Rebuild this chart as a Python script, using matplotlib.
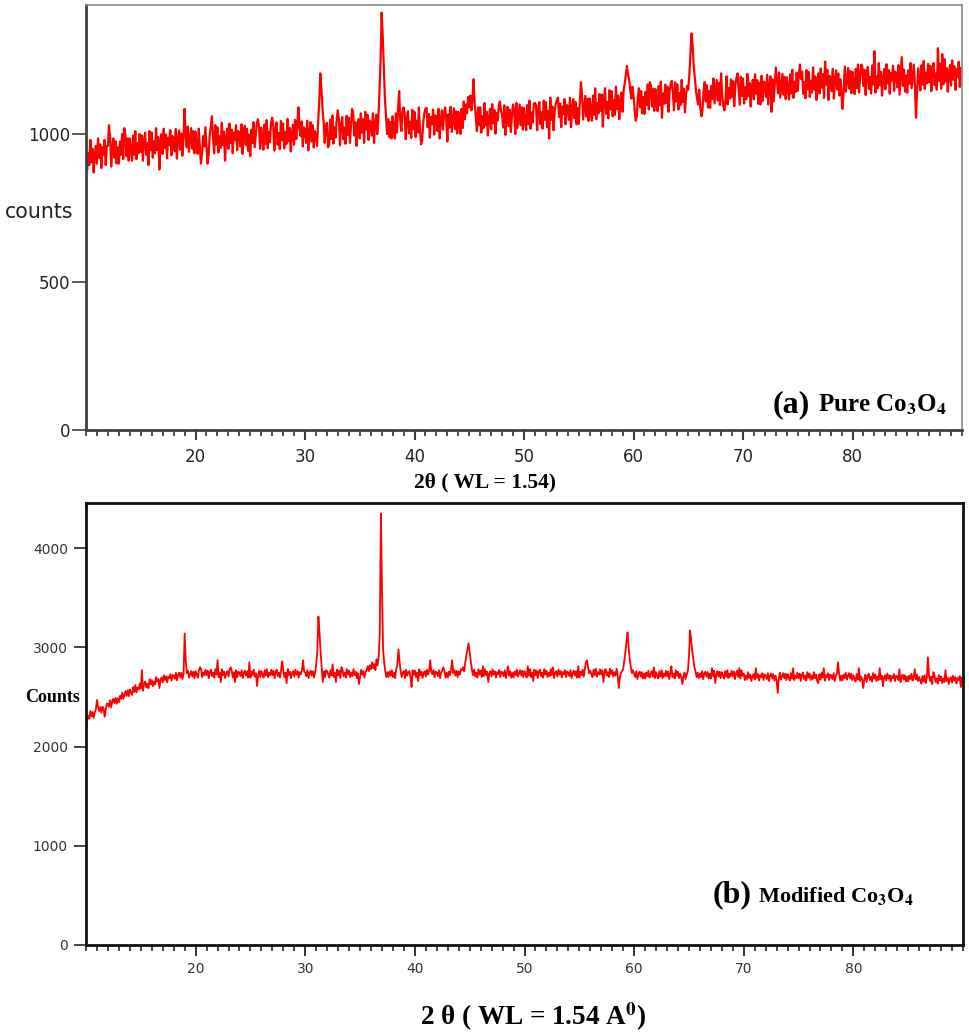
import numpy as np
import matplotlib
matplotlib.use("Agg")
import matplotlib.pyplot as plt
from matplotlib.ticker import MultipleLocator, FixedLocator

plt.rcParams['mathtext.fontset'] = 'stix'

# ---- data (counts sampled every 0.1 deg, 2theta = 10 .. 90) ----
two_theta_start = 10.0
two_theta_end = 90.0

pure_counts = [
    965, 880, 935, 895, 980, 905, 950, 870, 930, 960,
    900, 985, 920, 965, 885, 955, 930, 980, 895, 960,
    960, 1030, 990, 890, 955, 985, 920, 975, 900, 955,
    900, 975, 930, 1000, 915, 1020, 995, 925, 985, 910,
    985, 945, 910, 995, 930, 1010, 915, 970, 935, 1000,
    940, 995, 910, 980, 1005, 930, 970, 895, 1010, 945,
    1005, 920, 975, 935, 1020, 945, 990, 880, 970, 1000,
    933, 1018, 953, 998, 918, 988, 963, 1013, 928, 993,
    987, 942, 1017, 917, 982, 1012, 947, 1002, 927, 982,
    1085, 1000, 955, 1025, 940, 980, 1020, 950, 1010, 935,
    1008, 968, 933, 1018, 953, 900, 938, 993, 958, 1023,
    960, 900, 930, 1000, 1025, 1060, 990, 935, 1030, 965,
    1023, 938, 993, 953, 1038, 963, 1008, 910, 988, 1018,
    950, 1035, 970, 1015, 935, 1005, 980, 1030, 945, 1010,
    1003, 958, 1033, 933, 998, 1028, 963, 1018, 943, 998,
    925, 1015, 970, 1040, 955, 995, 1035, 1050, 1025, 950,
    1022, 982, 947, 1032, 967, 1047, 952, 1007, 972, 1037,
    1055, 1029, 944, 1014, 1039, 964, 1004, 949, 1044, 979,
    1036, 951, 1006, 966, 1051, 976, 1021, 941, 1001, 1031,
    963, 1048, 983, 1028, 1090, 1018, 993, 1043, 958, 1023,
    1015, 970, 1045, 945, 1010, 1040, 975, 1030, 955, 1010,
    1000, 960, 1040, 1110, 1205, 1150, 1085, 1040, 970, 1030,
    1038, 955, 963, 1048, 983, 1063, 968, 1023, 988, 1053,
    1080, 1047, 962, 1032, 1057, 982, 1022, 967, 1062, 997,
    1055, 970, 1025, 1085, 1070, 995, 1040, 960, 1020, 1050,
    985, 1070, 1005, 1050, 970, 1075, 1015, 1065, 980, 1045,
    1040, 995, 1070, 970, 1035, 1065, 1000, 1055, 1140, 1250,
    1410, 1330, 1220, 1120, 1060, 1000, 1050, 990, 1040, 985,
    1060, 1020, 985, 1070, 1005, 1085, 1145, 1045, 1010, 1075,
    1090, 1067, 982, 1052, 1077, 1002, 1042, 987, 1082, 1017,
    1075, 990, 1045, 1005, 1090, 1015, 965, 980, 1040, 1070,
    1085, 1088, 1023, 1068, 988, 1058, 1033, 1083, 998, 1063,
    1055, 1010, 1085, 985, 1050, 1080, 1015, 1070, 1090, 1050,
    975, 1067, 1022, 1092, 1007, 1047, 1087, 1017, 1077, 1002,
    1075, 1035, 1000, 1085, 1020, 1110, 1050, 1100, 1070, 1125,
    1090, 1130, 1080, 1120, 1185, 1100, 1060, 1010, 1090, 1030,
    1090, 1005, 1060, 1020, 1105, 1030, 1075, 995, 1055, 1085,
    1016, 1101, 1036, 1081, 1001, 1071, 1046, 1096, 1110, 1076,
    1067, 1022, 1097, 997, 1062, 1092, 1027, 1082, 1007, 1062,
    1100, 1080, 1000, 1105, 1020, 1060, 1100, 1030, 1090, 1015,
    1088, 1048, 1013, 1098, 1033, 1113, 1018, 1073, 1038, 1103,
    1105, 1098, 1013, 1083, 1108, 1033, 1073, 1018, 1113, 1048,
    1108, 1023, 1078, 985, 1123, 1048, 1093, 1013, 1073, 1103,
    1115, 1123, 1058, 1103, 1023, 1093, 1068, 1118, 1033, 1098,
    1093, 1048, 1123, 1023, 1088, 1118, 1053, 1108, 1033, 1088,
    1034, 1109, 1175, 1134, 1049, 1089, 1129, 1059, 1119, 1044,
    1120, 1080, 1045, 1130, 1065, 1155, 1050, 1105, 1070, 1135,
    1078, 1133, 1025, 1118, 1155, 1068, 1108, 1053, 1148, 1083,
    1145, 1060, 1115, 1065, 1160, 1085, 1130, 1050, 1110, 1140,
    1075, 1150, 1170, 1200, 1230, 1200, 1185, 1150, 1120, 1160,
    1130, 1085, 1045, 1060, 1125, 1155, 1090, 1145, 1070, 1125,
    1068, 1143, 1098, 1168, 1083, 1175, 1163, 1093, 1153, 1078,
    1152, 1112, 1077, 1162, 1097, 1177, 1055, 1137, 1102, 1167,
    1105, 1160, 1075, 1145, 1170, 1180, 1135, 1080, 1175, 1110,
    1168, 1083, 1138, 1098, 1183, 1108, 1153, 1073, 1133, 1163,
    1150, 1200, 1270, 1340, 1300, 1230, 1190, 1150, 1120, 1100,
    1150, 1090, 1060, 1080, 1145, 1175, 1110, 1165, 1090, 1145,
    1088, 1163, 1118, 1188, 1103, 1143, 1183, 1113, 1173, 1098,
    1205, 1130, 1095, 1080, 1115, 1195, 1100, 1155, 1120, 1185,
    1124, 1179, 1094, 1164, 1189, 1205, 1154, 1099, 1194, 1129,
    1188, 1103, 1158, 1118, 1203, 1128, 1173, 1093, 1153, 1183,
    1117, 1202, 1137, 1182, 1102, 1172, 1100, 1197, 1112, 1177,
    1170, 1125, 1200, 1100, 1165, 1195, 1075, 1185, 1110, 1165,
    1225, 1183, 1138, 1208, 1123, 1163, 1203, 1133, 1193, 1118,
    1192, 1152, 1117, 1202, 1137, 1217, 1122, 1177, 1142, 1207,
    1146, 1201, 1235, 1186, 1211, 1136, 1176, 1121, 1216, 1151,
    1210, 1125, 1180, 1140, 1225, 1150, 1195, 1115, 1175, 1205,
    1137, 1222, 1157, 1202, 1122, 1245, 1167, 1217, 1115, 1197,
    1190, 1145, 1220, 1120, 1185, 1215, 1150, 1205, 1130, 1185,
    1128, 1085, 1158, 1228, 1143, 1183, 1223, 1153, 1213, 1138,
    1210, 1170, 1135, 1220, 1155, 1235, 1140, 1195, 1235, 1225,
    1162, 1217, 1132, 1202, 1227, 1152, 1192, 1137, 1232, 1167,
    1280, 1140, 1195, 1155, 1240, 1165, 1210, 1130, 1190, 1220,
    1151, 1236, 1171, 1216, 1136, 1206, 1181, 1231, 1146, 1211,
    1203, 1158, 1233, 1133, 1198, 1260, 1163, 1218, 1143, 1198,
    1140, 1215, 1170, 1240, 1155, 1195, 1235, 1165, 1055, 1150,
    1222, 1182, 1147, 1232, 1167, 1247, 1152, 1207, 1172, 1237,
    1175, 1230, 1145, 1215, 1240, 1165, 1205, 1150, 1290, 1180,
    1238, 1153, 1270, 1168, 1253, 1178, 1223, 1143, 1203, 1233,
    1164, 1249, 1184, 1229, 1149, 1219, 1194, 1244, 1159, 1224,
    1210,
]

modified_counts = [
    2315, 2257, 2309, 2281, 2358, 2305, 2347, 2289, 2346, 2373,
    2470, 2401, 2358, 2399, 2341, 2402, 2389, 2300, 2372, 2433,
    2430, 2401, 2468, 2394, 2456, 2482, 2439, 2490, 2432, 2488,
    2445, 2511, 2483, 2544, 2481, 2522, 2559, 2510, 2567, 2508,
    2575, 2545, 2520, 2600, 2550, 2620, 2545, 2595, 2575, 2635,
    2585, 2770, 2563, 2627, 2656, 2595, 2634, 2588, 2677, 2626,
    2670, 2608, 2657, 2625, 2699, 2658, 2681, 2590, 2673, 2696,
    2645, 2718, 2671, 2709, 2647, 2705, 2688, 2731, 2664, 2722,
    2715, 2682, 2744, 2666, 2723, 2745, 2697, 2744, 2681, 2733,
    3140, 2860, 2740, 2765, 2695, 2730, 2760, 2705, 2755, 2690,
    2760, 2725, 2695, 2770, 2800, 2780, 2700, 2745, 2720, 2775,
    2720, 2765, 2690, 2750, 2775, 2710, 2745, 2695, 2780, 2725,
    2870, 2700, 2745, 2650, 2780, 2720, 2755, 2690, 2740, 2760,
    2705, 2775, 2800, 2760, 2695, 2750, 2650, 2770, 2700, 2755,
    2745, 2710, 2770, 2690, 2745, 2765, 2715, 2760, 2695, 2850,
    2695, 2755, 2720, 2775, 2705, 2740, 2610, 2715, 2765, 2700,
    2760, 2725, 2695, 2770, 2715, 2780, 2700, 2745, 2720, 2775,
    2720, 2765, 2690, 2750, 2775, 2710, 2745, 2695, 2780, 2860,
    2765, 2700, 2745, 2640, 2780, 2720, 2755, 2690, 2740, 2760,
    2705, 2775, 2725, 2760, 2695, 2750, 2730, 2770, 2870, 2755,
    2745, 2710, 2770, 2690, 2745, 2765, 2715, 2760, 2695, 2745,
    2830, 2960, 3310, 3150, 2950, 2800, 2650, 2760, 2700, 2770,
    2760, 2725, 2695, 2770, 2715, 2830, 2700, 2745, 2650, 2775,
    2720, 2765, 2690, 2800, 2775, 2710, 2745, 2695, 2780, 2725,
    2765, 2700, 2745, 2710, 2780, 2720, 2755, 2690, 2740, 2630,
    2705, 2775, 2725, 2760, 2695, 2750, 2770, 2810, 2760, 2820,
    2780, 2850, 2790, 2830, 2770, 2880, 2820, 2900, 3150, 4350,
    3600, 2980, 2850, 2760, 2700, 2750, 2700, 2760, 2715, 2770,
    2700, 2745, 2690, 2780, 2830, 2980, 2860, 2760, 2700, 2745,
    2760, 2690, 2775, 2715, 2750, 2760, 2700, 2600, 2770, 2725,
    2765, 2700, 2745, 2660, 2780, 2720, 2755, 2690, 2740, 2760,
    2705, 2775, 2725, 2760, 2870, 2750, 2730, 2770, 2700, 2755,
    2745, 2710, 2770, 2690, 2745, 2765, 2800, 2760, 2695, 2745,
    2695, 2755, 2720, 2775, 2870, 2740, 2770, 2715, 2765, 2700,
    2760, 2725, 2780, 2770, 2800, 2760, 2850, 2920, 2980, 3040,
    2950, 2860, 2780, 2720, 2775, 2710, 2745, 2695, 2780, 2725,
    2765, 2700, 2810, 2710, 2780, 2720, 2755, 2650, 2740, 2760,
    2705, 2775, 2725, 2760, 2695, 2750, 2730, 2770, 2700, 2755,
    2745, 2710, 2770, 2690, 2745, 2810, 2715, 2760, 2695, 2745,
    2695, 2755, 2720, 2775, 2705, 2740, 2770, 2715, 2765, 2700,
    2760, 2725, 2695, 2810, 2715, 2780, 2700, 2745, 2660, 2775,
    2720, 2765, 2690, 2750, 2775, 2710, 2745, 2695, 2780, 2725,
    2765, 2700, 2745, 2710, 2780, 2720, 2800, 2690, 2740, 2760,
    2705, 2775, 2725, 2760, 2695, 2750, 2730, 2770, 2700, 2755,
    2745, 2710, 2770, 2690, 2745, 2765, 2715, 2760, 2695, 2810,
    2695, 2755, 2720, 2775, 2705, 2780, 2850, 2870, 2800, 2740,
    2765, 2730, 2700, 2775, 2720, 2785, 2705, 2750, 2725, 2780,
    2725, 2770, 2650, 2755, 2780, 2715, 2750, 2700, 2785, 2730,
    2770, 2705, 2750, 2715, 2785, 2725, 2590, 2695, 2745, 2765,
    2780, 2860, 2950, 3060, 3150, 3000, 2880, 2800, 2740, 2770,
    2735, 2700, 2760, 2680, 2735, 2755, 2705, 2750, 2685, 2735,
    2685, 2745, 2710, 2765, 2695, 2730, 2760, 2705, 2800, 2690,
    2750, 2715, 2685, 2760, 2705, 2770, 2690, 2735, 2710, 2765,
    2710, 2755, 2680, 2740, 2810, 2700, 2735, 2685, 2770, 2715,
    2755, 2690, 2735, 2700, 2630, 2710, 2745, 2680, 2730, 2760,
    2900, 3170, 3080, 2960, 2880, 2800, 2760, 2700, 2745, 2690,
    2735, 2700, 2760, 2680, 2735, 2755, 2705, 2750, 2685, 2735,
    2685, 2790, 2710, 2765, 2640, 2730, 2760, 2705, 2755, 2690,
    2750, 2715, 2685, 2760, 2705, 2770, 2690, 2735, 2710, 2765,
    2710, 2755, 2680, 2740, 2765, 2700, 2790, 2685, 2770, 2715,
    2735, 2670, 2715, 2680, 2750, 2690, 2725, 2660, 2710, 2730,
    2675, 2790, 2695, 2730, 2665, 2720, 2700, 2740, 2670, 2725,
    2715, 2680, 2740, 2660, 2715, 2735, 2685, 2730, 2665, 2715,
    2665, 2540, 2690, 2745, 2675, 2710, 2740, 2685, 2735, 2670,
    2730, 2695, 2665, 2740, 2685, 2790, 2670, 2715, 2690, 2745,
    2690, 2735, 2660, 2720, 2745, 2680, 2715, 2665, 2750, 2695,
    2735, 2670, 2715, 2680, 2750, 2690, 2725, 2660, 2640, 2730,
    2675, 2745, 2695, 2790, 2665, 2720, 2700, 2740, 2670, 2725,
    2715, 2680, 2740, 2660, 2715, 2735, 2850, 2730, 2665, 2715,
    2665, 2725, 2690, 2745, 2675, 2710, 2740, 2685, 2735, 2670,
    2720, 2685, 2655, 2730, 2675, 2790, 2660, 2705, 2680, 2590,
    2680, 2725, 2650, 2710, 2735, 2670, 2705, 2655, 2740, 2685,
    2725, 2660, 2705, 2670, 2790, 2680, 2715, 2610, 2700, 2720,
    2665, 2735, 2685, 2720, 2655, 2710, 2690, 2730, 2660, 2715,
    2705, 2670, 2780, 2650, 2705, 2725, 2675, 2720, 2655, 2705,
    2655, 2715, 2680, 2735, 2665, 2700, 2780, 2675, 2725, 2660,
    2700, 2665, 2635, 2710, 2655, 2720, 2640, 2690, 2900, 2715,
    2660, 2705, 2630, 2750, 2715, 2650, 2685, 2635, 2720, 2665,
    2705, 2640, 2685, 2650, 2770, 2660, 2695, 2630, 2680, 2700,
    2645, 2715, 2665, 2700, 2635, 2690, 2670, 2710, 2600, 2695,
    2660,
]

top_yticks = [0, 500, 1000]
bottom_yticks = [0, 1000, 2000, 3000, 4000]
xticks = [20, 30, 40, 50, 60, 70, 80]

x_pure = np.linspace(two_theta_start, two_theta_end, len(pure_counts))
x_mod = np.linspace(two_theta_start, two_theta_end, len(modified_counts))

W, H = 969, 1033
fig = plt.figure(figsize=(W / 100, H / 100), dpi=100)

def fx(px):
    return px / W

def fy(py):
    return 1 - py / H

# ---------------- top panel ----------------
ax1 = fig.add_axes([fx(86), fy(430), fx(962) - fx(86), fy(5) - fy(430)])
ax1.plot(x_pure, pure_counts, color='#ff0000', lw=1.6)
ax1.set_xlim(10, 90)
ax1.set_ylim(0, 1436)
ax1.xaxis.set_major_locator(FixedLocator(xticks))
ax1.xaxis.set_minor_locator(MultipleLocator(1))
ax1.yaxis.set_major_locator(FixedLocator(top_yticks))
for s in ['top', 'right']:
    ax1.spines[s].set_color('#8a8a8a')
    ax1.spines[s].set_linewidth(1.2)
for s in ['left', 'bottom']:
    ax1.spines[s].set_color('#404040')
    ax1.spines[s].set_linewidth(2.0)
ax1.tick_params(axis='x', which='major', direction='out', length=7, width=1.5,
                color='#404040', labelsize=12, labelcolor='#222222', pad=6)
ax1.tick_params(axis='x', which='minor', direction='out', length=4, width=1.3,
                color='#404040')
ax1.tick_params(axis='y', which='major', direction='out', length=10, width=1.2,
                color='#404040', labelsize=12, labelcolor='#222222', pad=1)
for lab in ax1.get_xticklabels() + ax1.get_yticklabels():
    lab.set_family('DejaVu Sans')

fig.text(fx(5), fy(212), 'counts', fontsize=14.8, family='DejaVu Sans',
         color='#222222', ha='left', va='center')
fig.text(fx(485), fy(482), '2θ ( WL = 1.54)', fontsize=15.5,
         family='Liberation Serif', weight='bold', ha='center', va='center')
ax1.text(0.826, 0.042, '(a)', transform=ax1.transAxes, fontsize=23,
         family='Liberation Serif', weight='bold', ha='right', va='baseline')
ax1.text(0.836, 0.042, r'Pure Co$_{\mathbf{3}}$O$_{\mathbf{4}}$',
         transform=ax1.transAxes, fontsize=18,
         family='Liberation Serif', weight='bold', ha='left', va='baseline')

# ---------------- bottom panel ----------------
ax2 = fig.add_axes([fx(86), fy(945), fx(963) - fx(86), fy(503) - fy(945)])
ax2.plot(x_mod, modified_counts, color='#ff0000', lw=1.3)
ax2.set_xlim(10, 90)
ax2.set_ylim(0, 4455)
ax2.xaxis.set_major_locator(FixedLocator(xticks))
ax2.xaxis.set_minor_locator(MultipleLocator(1))
ax2.yaxis.set_major_locator(FixedLocator(bottom_yticks))
for s in ax2.spines.values():
    s.set_color('#111111')
    s.set_linewidth(2.0)
ax2.tick_params(axis='x', which='major', direction='out', length=8, width=1.3,
                color='#222222', labelsize=10, labelcolor='#333333', pad=4)
ax2.tick_params(axis='x', which='minor', direction='out', length=4, width=1.2,
                color='#222222')
ax2.tick_params(axis='y', which='major', direction='out', length=9, width=1.2,
                color='#222222', labelsize=10, labelcolor='#333333', pad=4)

fig.text(fx(25), fy(697), 'Counts', fontsize=13, family='Liberation Serif',
         weight='bold', ha='left', va='center')
fig.text(fx(533), fy(1017), r'2 θ ( WL = 1.54 A$^{\mathbf{0}}$)', fontsize=19.5,
         family='Liberation Serif', weight='bold', ha='center', va='center')
ax2.text(0.759, 0.097, '(b)', transform=ax2.transAxes, fontsize=23,
         family='Liberation Serif', weight='bold', ha='right', va='baseline')
ax2.text(0.766, 0.097, r'Modified Co$_{\mathbf{3}}$O$_{\mathbf{4}}$',
         transform=ax2.transAxes, fontsize=16,
         family='Liberation Serif', weight='bold', ha='left', va='baseline')

fig.savefig('out.png', dpi=100, facecolor='white')
